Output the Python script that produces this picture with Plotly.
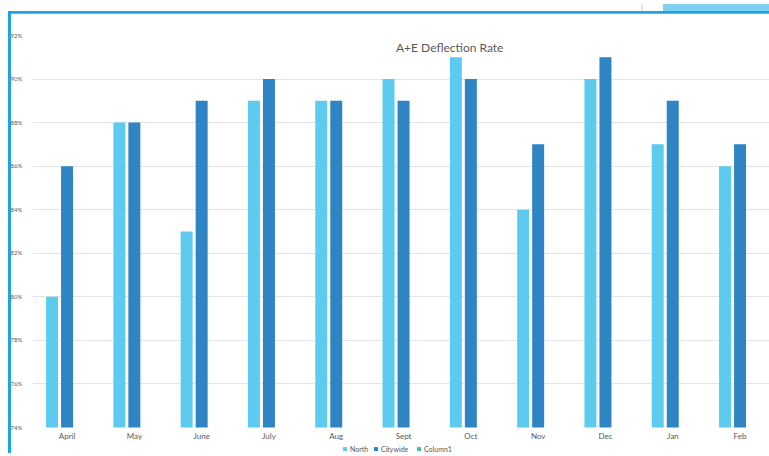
import plotly.graph_objects as go

# Monthly deflection rates (fractions) by area
months = ["April", "May", "June", "July", "Aug", "Sept", "Oct", "Nov", "Dec", "Jan", "Feb"]
north = [0.80, 0.88, 0.83, 0.89, 0.89, 0.90, 0.91, 0.84, 0.90, 0.87, 0.86]
citywide = [0.86, 0.88, 0.89, 0.90, 0.89, 0.89, 0.90, 0.87, 0.91, 0.89, 0.87]
column1 = [None] * len(months)

series_names = ["North", "Citywide", "Column1"]
series_values = [north, citywide, column1]
series_colors = ["#5DCBF0", "#2F84C4", "#45C1A0"]

y_ticks = [0.74, 0.76, 0.78, 0.80, 0.82, 0.84, 0.86, 0.88, 0.90, 0.92]

W, H = 769, 456
FONT = "Lato, 'Open Sans', sans-serif"
GREY = "#595959"


def px(x):
    return x / W


def py(y):
    return 1 - y / H


# bar geometry within each category slot (category units)
bar_width = 0.178
offsets = [-0.312, -0.089, 0.134]

fig = go.Figure()
for name, vals, col, off in zip(series_names, series_values, series_colors, offsets):
    fig.add_trace(go.Bar(
        x=list(range(len(months))), y=vals, name=name,
        marker=dict(color=col, line=dict(width=0)),
        width=bar_width, offset=off, showlegend=False,
    ))

plot_left = 33.4
slot = 67.3
x_right = -0.5 + (W - plot_left) / slot

fig.update_layout(
    width=W, height=H,
    margin=dict(l=0, r=0, t=0, b=0),
    paper_bgcolor="white", plot_bgcolor="white",
    barmode="overlay",
    font=dict(family=FONT, color=GREY),
    xaxis=dict(
        domain=[px(plot_left), 1],
        range=[-0.5, x_right],
        tickmode="array", tickvals=list(range(len(months))), ticktext=months,
        tickfont=dict(size=8, color=GREY),
        showgrid=False, zeroline=False,
        showline=False, ticks="", ticklabelstandoff=3,
    ),
    yaxis=dict(
        domain=[py(430), py(32)],
        range=[0.74, 0.92],
        tickmode="array", tickvals=y_ticks, tickformat=".0%",
        tickfont=dict(size=6, color=GREY),
        showgrid=True, gridcolor="#E4E4E4", gridwidth=1,
        zeroline=False, showline=False, ticks="", ticklabelstandoff=10,
    ),
)

# chart title
fig.add_annotation(
    x=px(449), y=py(44), xref="paper", yref="paper",
    text="A+E Deflection Rate", showarrow=False,
    font=dict(size=12, color=GREY, family=FONT),
    xanchor="center", yanchor="middle",
)

# compact legend row: coloured square plus series name
legend_x = [343, 374, 417]
for name, col, lx in zip(series_names, series_colors, legend_x):
    fig.add_shape(type="rect", xref="paper", yref="paper",
                  x0=px(lx), x1=px(lx + 4), y0=py(454), y1=py(450),
                  fillcolor=col, line=dict(width=0))
    fig.add_annotation(
        x=px(lx + 5), y=py(452), xref="paper", yref="paper",
        text=name, showarrow=False, xanchor="left", yanchor="middle",
        font=dict(size=7, color=GREY, family=FONT),
    )

# slide frame: blue borders and top-right tab
frame_blue = "#1EA5E0"
fig.add_shape(type="rect", xref="paper", yref="paper",
              x0=px(8), x1=px(11), y0=0, y1=py(7),
              fillcolor=frame_blue, line=dict(width=0), layer="above")
fig.add_shape(type="rect", xref="paper", yref="paper",
              x0=px(8), x1=1, y0=py(10), y1=py(7),
              fillcolor=frame_blue, line=dict(width=0), layer="above")
fig.add_shape(type="rect", xref="paper", yref="paper",
              x0=px(663), x1=1, y0=py(7), y1=1,
              fillcolor="#7FD0F1", line=dict(width=0), layer="above")
fig.add_shape(type="line", xref="paper", yref="paper",
              x0=px(642), x1=px(642), y0=py(7), y1=1,
              line=dict(color="#C8C8C8", width=1), layer="above")

fig.write_html("out.html")
